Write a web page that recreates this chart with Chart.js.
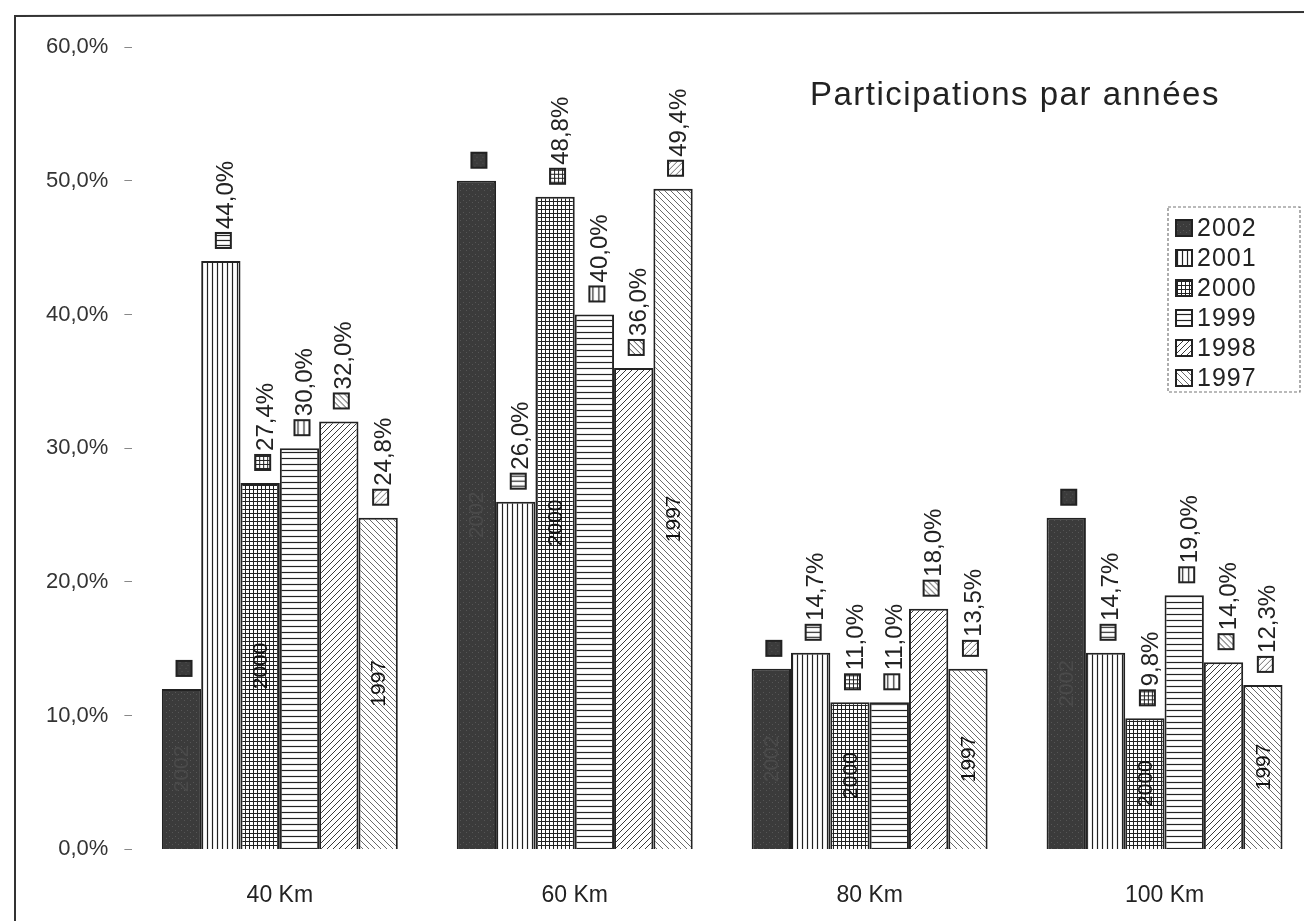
<!DOCTYPE html>
<html>
<head>
<meta charset="utf-8">
<script src="https://cdn.jsdelivr.net/npm/chart.js@4"></script>
<style>
  html, body { margin: 0; padding: 0; background: #fff; overflow: hidden; }
  #wrap { position: relative; width: 1312px; height: 933px; }
</style>
</head>
<body>
<div id="wrap"><canvas id="chart" width="1312" height="933"></canvas></div>
<script>
// Categories and series
const categories = ["40 Km", "60 Km", "80 Km", "100 Km"];
const years = ["2002", "2001", "2000", "1999", "1998", "1997"];
const v2002 = [12.0, 50.0, 13.5, 24.8];
const v2001 = [44.0, 26.0, 14.7, 14.7];
const v2000 = [27.4, 48.8, 11.0, 9.8];
const v1999 = [30.0, 40.0, 11.0, 19.0];
const v1998 = [32.0, 36.0, 18.0, 14.0];
const v1997 = [24.8, 49.4, 13.5, 12.3];
const seriesValues = [v2002, v2001, v2000, v1999, v1998, v1997];
// which series print their value above the bar, and which print their name inside
const showValue = [false, true, true, true, true, true];
const innerName = ["2002", null, "2000", null, null, "1997"];
const yTicks = [0, 10, 20, 30, 40, 50, 60];
const chartTitle = "Participations par années";

const FONT = "'Liberation Sans', Arial, sans-serif";
const fmt = (v) => v.toFixed(1).replace(".", ",") + "%";

// Build the fill patterns, like the old black & white print
function makePattern(kind) {
  const c = document.createElement("canvas");
  const s = 6;
  c.width = s; c.height = s;
  const g = c.getContext("2d");
  g.fillStyle = "#fff";
  g.fillRect(0, 0, s, s);
  g.strokeStyle = "#222";
  g.lineWidth = 1.2;
  if (kind === "dark") {
    g.fillStyle = "#3b3b3b";
    g.fillRect(0, 0, s, s);
    g.fillStyle = "#565656";
    g.fillRect(1, 2, 1, 1);
    g.fillRect(4, 4, 1, 1);
  } else if (kind === "vert") {
    c.width = 5;
    g.fillStyle = "#fff"; g.fillRect(0, 0, 5, s);
    g.strokeStyle = "#222"; g.lineWidth = 1.2;
    g.beginPath(); g.moveTo(2.5, 0); g.lineTo(2.5, s); g.stroke();
  } else if (kind === "grid") {
    c.width = 4; c.height = 4;
    g.fillStyle = "#fff"; g.fillRect(0, 0, 4, 4);
    g.strokeStyle = "#222"; g.lineWidth = 1;
    g.beginPath(); g.moveTo(0, 1.5); g.lineTo(4, 1.5); g.moveTo(1.5, 0); g.lineTo(1.5, 4); g.stroke();
  } else if (kind === "horiz") {
    g.beginPath(); g.moveTo(0, 2.5); g.lineTo(s, 2.5); g.stroke();
  } else if (kind === "diagUp") {
    g.strokeStyle = "#3a3a3a"; g.lineWidth = 1;
    g.beginPath();
    g.moveTo(0, s); g.lineTo(s, 0);
    g.moveTo(-1, 1); g.lineTo(1, -1);
    g.moveTo(s - 1, s + 1); g.lineTo(s + 1, s - 1);
    g.stroke();
  } else if (kind === "diagDown") {
    g.strokeStyle = "#6a6a6a"; g.lineWidth = 1;
    g.beginPath();
    g.moveTo(0, 0); g.lineTo(s, s);
    g.moveTo(-1, s - 1); g.lineTo(1, s + 1);
    g.moveTo(s - 1, -1); g.lineTo(s + 1, 1);
    g.stroke();
  }
  return document.createElement("canvas").getContext("2d").createPattern(c, "repeat");
}

const patterns = ["dark", "vert", "grid", "horiz", "diagUp", "diagDown"].map(makePattern);

// value labels above each bar (marker square + rotated text) and names inside bars
const barLabels = {
  id: "barLabels",
  afterDatasetsDraw(chart) {
    const ctx = chart.ctx;
    chart.data.datasets.forEach((ds, i) => {
      const meta = chart.getDatasetMeta(i);
      meta.data.forEach((bar, j) => {
        ctx.save();
        ctx.translate(bar.x + 2, bar.y - 13);
        ctx.rotate(-Math.PI / 2);
        ctx.fillStyle = ds.backgroundColor;
        ctx.fillRect(0, -7, 15, 15);
        ctx.strokeStyle = "#222";
        ctx.lineWidth = 2;
        ctx.strokeRect(0, -7, 15, 15);
        if (showValue[i]) {
          ctx.fillStyle = "#222";
          ctx.font = "24px " + FONT;
          ctx.textAlign = "left";
          ctx.textBaseline = "middle";
          ctx.fillText(fmt(ds.data[j]), 19, 4);
        }
        ctx.restore();
        if (innerName[i]) {
          ctx.save();
          ctx.translate(bar.x, (bar.y + bar.base) / 2);
          ctx.rotate(-Math.PI / 2);
          ctx.fillStyle = i === 0 ? "#4a4a4a" : "#111";
          ctx.font = "21px " + FONT;
          ctx.textAlign = "center";
          ctx.textBaseline = "middle";
          ctx.fillText(innerName[i], 0, 1);
          ctx.restore();
        }
      });
    });
  },
};

// frame, title and the boxed legend placed inside the plot
const overlay = {
  id: "overlay",
  afterDraw(chart) {
    const ctx = chart.ctx;
    ctx.save();
    ctx.strokeStyle = "#333";
    ctx.lineWidth = 2;
    ctx.beginPath();
    ctx.moveTo(15, 933); ctx.lineTo(15, 16); ctx.lineTo(1312, 12);
    ctx.stroke();

    ctx.fillStyle = "#222";
    ctx.font = "33px " + FONT;
    ctx.letterSpacing = "1.5px";
    ctx.textAlign = "left";
    ctx.textBaseline = "middle";
    ctx.fillText(chartTitle, 810, 96);

    // legend box
    const lx = 1168, ly = 207, lw = 132, lh = 185;
    ctx.setLineDash([3, 2]);
    ctx.strokeStyle = "#777";
    ctx.lineWidth = 1.2;
    ctx.strokeRect(lx, ly, lw, lh);
    ctx.setLineDash([]);
    ctx.font = "25px " + FONT;
    ctx.letterSpacing = "1px";
    chart.data.datasets.forEach((ds, i) => {
      const y = ly + 21 + i * 30;
      ctx.fillStyle = ds.backgroundColor;
      ctx.fillRect(lx + 8, y - 8, 16, 16);
      ctx.strokeStyle = "#222";
      ctx.lineWidth = 2;
      ctx.strokeRect(lx + 8, y - 8, 16, 16);
      ctx.fillStyle = "#222";
      ctx.fillText(ds.label, lx + 29, y + 1);
    });
    ctx.restore();
  },
};

const datasets = years.map((y, i) => ({
  label: y,
  data: seriesValues[i],
  backgroundColor: patterns[i],
  borderColor: "#222",
  borderWidth: 2,
  barPercentage: 1.0,
  categoryPercentage: 0.8,
}));

new Chart(document.getElementById("chart"), {
  type: "bar",
  data: { labels: categories, datasets: datasets },
  plugins: [barLabels, overlay],
  options: {
    responsive: false,
    animation: false,
    layout: { padding: { top: 47, left: 30, right: 0, bottom: 0 } },
    plugins: {
      legend: { display: false },
      tooltip: { enabled: false },
    },
    scales: {
      x: {
        grid: { display: false },
        border: { display: false },
        ticks: { color: "#222", font: { family: FONT, size: 23 }, padding: 24 },
      },
      y: {
        min: 0,
        max: 60,
        afterBuildTicks: (axis) => { axis.ticks = yTicks.map((v) => ({ value: v })); },
        border: { display: false },
        grid: { drawOnChartArea: false, tickLength: 8, color: "#888" },
        ticks: {
          color: "#333",
          font: { family: FONT, size: 22 },
          padding: 16,
          callback: (v) => fmt(v),
        },
      },
    },
  },
});
</script>
</body>
</html>
